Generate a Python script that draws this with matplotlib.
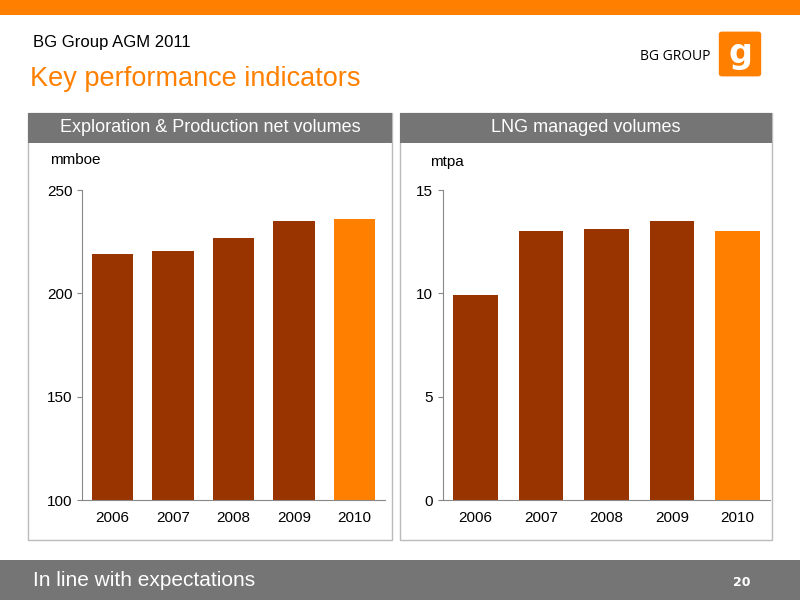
import matplotlib
matplotlib.use("Agg")
import matplotlib.pyplot as plt
from matplotlib.patches import Rectangle, FancyBboxPatch

years = ["2006", "2007", "2008", "2009", "2010"]
ep_values = [219, 220.5, 227, 235, 236]
lng_values = [9.9, 13.0, 13.1, 13.5, 13.0]

DARK = "#993300"
ORANGE = "#FF8000"
GREY = "#757575"
W, H = 800, 600

fig = plt.figure(figsize=(8, 6), dpi=100)
fig.patch.set_facecolor("white")

def rect(x, y, w, h, **kw):
    fig.add_artist(Rectangle((x / W, 1 - (y + h) / H), w / W, h / H, transform=fig.transFigure, **kw))

def txt(x, y, s, **kw):
    fig.text(x / W, 1 - y / H, s, **kw)

rect(0, 0, 800, 15, color=ORANGE, lw=0)
txt(33, 42, "BG Group AGM 2011", fontsize=12, va="center", family="Liberation Sans")
txt(30, 79, "Key performance indicators", fontsize=19.5, color=ORANGE, va="center", family="Liberation Sans")
txt(640, 56, "BG GROUP", fontsize=10, va="center", family="Open Sans")
fig.add_artist(FancyBboxPatch((722 / W, 1 - 74 / H), 36 / W, 40 / H, boxstyle="round,pad=0.004",
                              transform=fig.transFigure, color=ORANGE, lw=0))
txt(740, 54, "g", fontsize=24, color="white", ha="center", va="center", weight="bold")

for x0, x1, title in [(28, 392, "Exploration & Production net volumes"), (400, 772, "LNG managed volumes")]:
    rect(x0, 113, x1 - x0, 427, fill=False, ec="#bbbbbb", lw=1)
    rect(x0, 113, x1 - x0, 30, color=GREY, lw=0)
    txt((x0 + x1) / 2, 128, title, fontsize=13, color="white", ha="center", va="center", family="Liberation Sans")

rect(0, 560, 800, 40, color=GREY, lw=0)
txt(33, 580, "In line with expectations", fontsize=15, color="white", va="center", family="Liberation Sans")
txt(750, 582, "20", fontsize=9, color="white", ha="right", va="center", weight="bold")

def make_ax(x0, x1, ylim, ticks, vals):
    ax = fig.add_axes([x0 / W, 1 - 500 / H, (x1 - x0) / W, 310 / H])
    colors = [DARK] * (len(vals) - 1) + [ORANGE]
    ax.bar(years, vals, width=0.68, color=colors)
    ax.set_ylim(*ylim)
    ax.set_yticks(ticks)
    ax.set_xlim(-0.5, len(vals) - 0.5)
    for s in ["top", "right"]:
        ax.spines[s].set_visible(False)
    for s in ["left", "bottom"]:
        ax.spines[s].set_color("#888888")
    ax.tick_params(axis="both", labelsize=11, color="#888888")
    ax.tick_params(axis="x", length=0, pad=8)
    for t in ax.get_xticklabels() + ax.get_yticklabels():
        t.set_family("Liberation Sans")
    ax.patch.set_alpha(0)
    return ax

make_ax(82, 385, (100, 250), [100, 150, 200, 250], ep_values)
make_ax(443, 770, (0, 15), [0, 5, 10, 15], lng_values)
txt(50, 160, "mmboe", fontsize=11, va="center", family="Liberation Sans")
txt(430, 162, "mtpa", fontsize=11, va="center", family="Liberation Sans")

fig.savefig("out.png", dpi=100)
